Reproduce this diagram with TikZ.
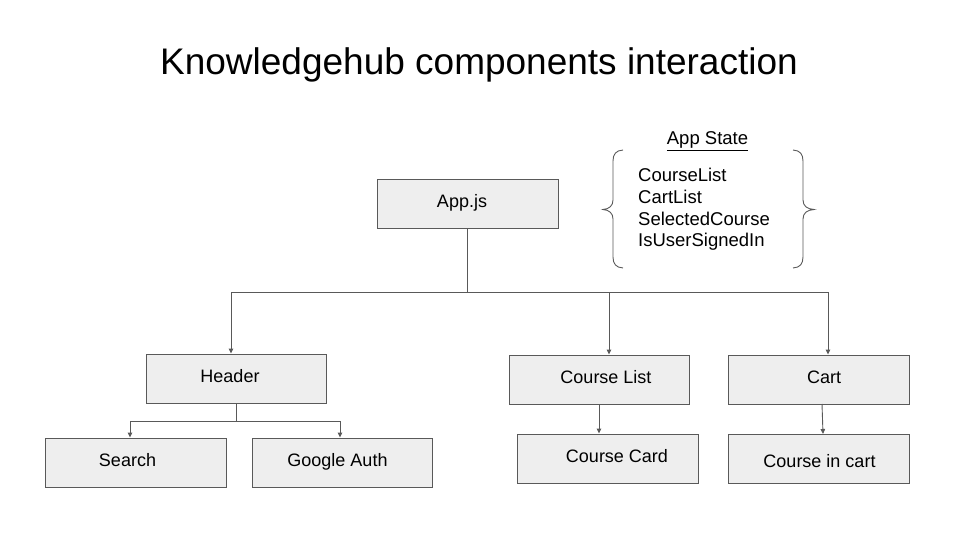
\documentclass[tikz,border=0pt]{standalone}
\usepackage{fontspec}
\setmainfont{Liberation Sans}
\usetikzlibrary{arrows.meta}
\definecolor{boxfill}{HTML}{EEEEEE}
\definecolor{linegray}{HTML}{595959}
\newcommand\nudge[2]{\hspace*{#1}#2\hspace*{-#1}}
\tikzset{
  comp/.style={draw=linegray, fill=boxfill, line width=0.9pt, minimum width=181pt, minimum height=49pt,
    inner sep=0pt, font=\fontsize{18}{20}\selectfont, text height=13pt, text depth=6pt},
  conn/.style={draw=linegray, line width=0.9pt},
  arr/.style={conn, -{Triangle[length=5pt,width=4.5pt]}},
  statetext/.style={font=\fontsize{18.5}{20}\selectfont, inner sep=0pt, anchor=base west},
}
\begin{document}
\begin{tikzpicture}[x=1pt,y=-1pt]
\useasboundingbox (0,0) rectangle (960,540);
\node[font=\fontsize{37}{42}\selectfont, anchor=base, inner sep=0pt] (title) at (479,75) {Knowledgehub components interaction};

\node[comp] (app) at (467.5,203.5) {\nudge{-5.5pt}{App.js}};
\node[comp, minimum width=180pt] (header) at (236.5,378.5) {\nudge{-6.5pt}{Header}};
\node[comp, minimum width=181pt] (search) at (135.5,462.5) {\nudge{-8pt}{Search}};
\node[comp, minimum width=180pt] (gauth) at (342,462.5) {\nudge{-4.5pt}{Google Auth}};
\node[comp, minimum width=180pt] (clist) at (599,379.5) {\nudge{7pt}{Course List}};
\node[comp] (cart) at (818.5,379.5) {\nudge{5.5pt}{Cart}};
\node[comp] (ccard) at (607.5,458.5) {\nudge{9.5pt}{Course Card}};
\node[comp] (cincart) at (818.5,458.5) {\raisebox{-5pt}{\nudge{1pt}{Course in cart}}};

% App state
\node[font=\fontsize{18.5}{20}\selectfont, anchor=base, inner sep=0pt] (statetitle) at (707.5,145) {\underline{App State}};
\node[statetext] (s1) at (638,182) {CourseList};
\node[statetext] (s2) at (638,203.5) {CartList};
\node[statetext] (s3) at (638,225) {SelectedCourse};
\node[statetext] (s4) at (638,246.5) {IsUserSignedIn};
\draw[conn] (623,150) .. controls (616,150.5) and (613,154) .. (613,161) -- (613,200)
  .. controls (613,206) and (609,209) .. (603,209.5)
  .. controls (609,210) and (613,213) .. (613,219) -- (613,257)
  .. controls (613,264) and (616,267.5) .. (623,268);
\draw[conn] (793,150) .. controls (800,150.5) and (803,154) .. (803,161) -- (803,200)
  .. controls (803,206) and (807,209) .. (814,209.5)
  .. controls (807,210) and (803,213) .. (803,219) -- (803,257)
  .. controls (803,264) and (800,267.5) .. (793,268);

% connectors
\coordinate (busL) at (231,292);
\coordinate (busM) at (609,292);
\coordinate (busR) at (828,292);
\draw[conn] (app.south) -- (app.south |- busL);
\draw[conn] (busL) -- (busR);
\draw[arr] (busL) -- (busL |- header.north);
\draw[arr] (busM) -- (busM |- clist.north);
\draw[arr] (busR) -- (busR |- cart.north);

\coordinate (hbusL) at (130,421);
\coordinate (hbusR) at (340,421);
\draw[conn] (header.south) -- (header.south |- hbusL);
\draw[conn] (hbusL) -- (hbusR);
\draw[arr] (hbusL) -- (hbusL |- search.north);
\draw[arr] (hbusR) -- (hbusR |- gauth.north);

\coordinate (clout) at (599,404);
\draw[arr] (clout) -- (clout |- ccard.north);
\coordinate (cartout) at (822,404);
\coordinate (cartin) at (823,434);
\draw[arr] (cartout) -- (cartin);
\end{tikzpicture}
\end{document}
